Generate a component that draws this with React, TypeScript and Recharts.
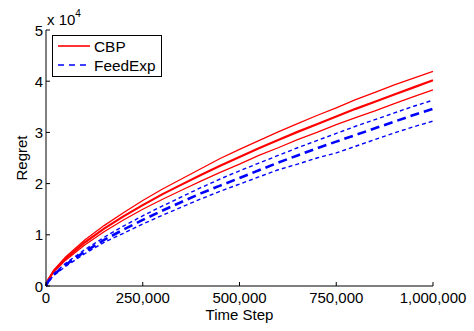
import React from 'react';
import { LineChart, Line, XAxis, YAxis, Legend } from 'recharts';

const timeSteps = [0, 5000, 20000, 50000, 100000, 150000, 200000, 250000, 300000, 350000, 400000, 450000, 500000, 550000, 600000, 650000, 700000, 750000, 800000, 850000, 900000, 950000, 1000000];

const cbpMean = [0, 1130, 2900, 5300, 8500, 11200, 13600, 15800, 17900, 19800, 21700, 23500, 25200, 26900, 28500, 30100, 31600, 33100, 34600, 36000, 37400, 38800, 40200];
const cbpUpper = [0, 1200, 3100, 5600, 9000, 11800, 14300, 16700, 18900, 20900, 22900, 24900, 26700, 28400, 30100, 31700, 33300, 34800, 36400, 37800, 39300, 40600, 41900];
const cbpLower = [0, 1050, 2750, 5000, 8000, 10600, 12900, 15000, 16900, 18700, 20500, 22200, 23800, 25500, 27000, 28600, 30000, 31500, 32900, 34200, 35600, 37000, 38300];

const feMean = [0, 800, 2200, 4100, 6700, 9000, 11000, 12900, 14700, 16400, 18100, 19600, 21100, 22600, 24100, 25500, 26900, 28200, 29500, 30800, 32100, 33400, 34600];
const feUpper = [0, 850, 2350, 4400, 7100, 9500, 11700, 13700, 15600, 17400, 19200, 20900, 22500, 24000, 25500, 27000, 28400, 29800, 31200, 32500, 33800, 35100, 36300];
const feLower = [0, 750, 2050, 3800, 6300, 8500, 10300, 12100, 13800, 15400, 17000, 18500, 19900, 21300, 22700, 23800, 25000, 26000, 27300, 28600, 29900, 31100, 32200];

const xTicks = [0, 250000, 500000, 750000, 1000000];
const xTickLabels = ['0', '250,000', '500,000', '750,000', '1,000,000'];
const yTicks = [0, 10000, 20000, 30000, 40000, 50000];
const yTickLabels = ['0', '1', '2', '3', '4', '5'];

const data = timeSteps.map((t, i) => ({
  t,
  cbpMean: cbpMean[i],
  cbpUpper: cbpUpper[i],
  cbpLower: cbpLower[i],
  feMean: feMean[i],
  feUpper: feUpper[i],
  feLower: feLower[i],
}));

const FONT = '"Liberation Sans", Arial, Helvetica, sans-serif';
const FS = 15;
const TL = 4;

const XBottomTick = (props: any) => {
  const { x, y, payload } = props;
  const idx = xTicks.indexOf(payload.value);
  return (
    <g>
      <line x1={x} y1={y} x2={x} y2={y - TL} stroke="#000" strokeWidth={1} />
      <text x={x} y={y + 17} textAnchor="middle" fontFamily={FONT} fontSize={FS} fill="#000">
        {idx >= 0 ? xTickLabels[idx] : ''}
      </text>
    </g>
  );
};

const XTopTick = (props: any) => {
  const { x, y } = props;
  return <line x1={x} y1={y} x2={x} y2={y + TL} stroke="#000" strokeWidth={1} />;
};

const YLeftTick = (props: any) => {
  const { x, y, payload } = props;
  const idx = yTicks.indexOf(payload.value);
  return (
    <g>
      <line x1={x} y1={y} x2={x + TL} y2={y} stroke="#000" strokeWidth={1} />
      <text x={x - 3} y={y + 5.5} textAnchor="end" fontFamily={FONT} fontSize={FS} fill="#000">
        {idx >= 0 ? yTickLabels[idx] : ''}
      </text>
    </g>
  );
};

const YRightTick = (props: any) => {
  const { x, y } = props;
  return <line x1={x} y1={y} x2={x - TL} y2={y} stroke="#000" strokeWidth={1} />;
};

const YLabel = (props: any) => {
  const vb = props.viewBox || { x: 0, y: 30, width: 46, height: 256 };
  const cx = vb.x + 21;
  const cy = vb.y + vb.height / 2;
  return (
    <g>
      <text
        x={cx}
        y={cy}
        transform={`rotate(-90 ${cx} ${cy})`}
        textAnchor="middle"
        dominantBaseline="central"
        fontFamily={FONT}
        fontSize={FS}
        fill="#000"
      >
        Regret
      </text>
      <text x={vb.x + vb.width + 1} y={vb.y - 5} fontFamily={FONT} fontSize={FS} fill="#000">
        x 10
        <tspan fontSize={10} dy={-8}>4</tspan>
      </text>
    </g>
  );
};

const renderLegend = (props: any) => {
  const entries = (props.payload || []).filter((e: any) => e.value === 'CBP' || e.value === 'FeedExp');
  return (
    <div
      style={{
        border: '1px solid #000',
        background: '#fff',
        width: 108,
        height: 40,
        boxSizing: 'content-box',
        position: 'relative',
      }}
    >
      <svg width={108} height={40} style={{ position: 'absolute', left: 0, top: 0 }}>
        {entries.map((e: any, i: number) => {
          const yy = 10 + i * 19;
          const dashed = e.value === 'FeedExp';
          return (
            <g key={e.value}>
              <line
                x1={5}
                y1={yy}
                x2={37}
                y2={yy}
                stroke={e.color}
                strokeWidth={1.6}
                strokeDasharray={dashed ? '6 5' : undefined}
              />
              <text x={41} y={yy + 5.5} fontFamily={FONT} fontSize={15.4} fill="#000">
                {e.value}
              </text>
            </g>
          );
        })}
      </svg>
    </div>
  );
};

export default function App() {
  return (
    <div style={{ position: 'absolute', left: 0, top: 0, width: 474, height: 331, background: '#fff' }}>
      <LineChart
        width={474}
        height={331}
        data={data}
        margin={{ top: 30, right: 41, bottom: 0, left: 0 }}
      >
        <XAxis
          dataKey="t"
          type="number"
          domain={[0, 1000000]}
          ticks={xTicks}
          tick={<XBottomTick />}
          tickLine={false}
          tickSize={0}
          tickMargin={0}
          height={45}
          axisLine={{ stroke: '#000', strokeWidth: 1 }}
          interval={0}
          label={{ value: 'Time Step', position: 'insideBottom', offset: 11.5, fontFamily: FONT, fontSize: FS, fill: '#000' }}
        />
        <XAxis
          xAxisId="top"
          orientation="top"
          dataKey="t"
          type="number"
          domain={[0, 1000000]}
          ticks={xTicks}
          tick={<XTopTick />}
          tickLine={false}
          tickSize={0}
          tickMargin={0}
          height={0}
          axisLine={{ stroke: '#000', strokeWidth: 1 }}
          interval={0}
        />
        <YAxis
          type="number"
          domain={[0, 50000]}
          ticks={yTicks}
          tick={<YLeftTick />}
          tickLine={false}
          tickSize={0}
          tickMargin={0}
          width={46}
          axisLine={{ stroke: '#000', strokeWidth: 1 }}
          interval={0}
          label={<YLabel />}
        />
        <YAxis
          yAxisId="right"
          orientation="right"
          type="number"
          domain={[0, 50000]}
          ticks={yTicks}
          tick={<YRightTick />}
          tickLine={false}
          tickSize={0}
          tickMargin={0}
          width={0}
          axisLine={{ stroke: '#000', strokeWidth: 1 }}
          interval={0}
        />
        <Legend
          layout="vertical"
          align="center"
          verticalAlign="middle"
          content={renderLegend}
          wrapperStyle={{ position: 'absolute', left: 52, top: 35, width: 110, height: 42 }}
        />
        <Line dataKey="cbpUpper" name="cbpUpper" stroke="#ff0000" strokeWidth={1.3} dot={false} isAnimationActive={false} legendType="none" />
        <Line dataKey="cbpLower" name="cbpLower" stroke="#ff0000" strokeWidth={1.3} dot={false} isAnimationActive={false} legendType="none" />
        <Line dataKey="feUpper" name="feUpper" stroke="#0000ff" strokeWidth={1.4} strokeDasharray="4 3" dot={false} isAnimationActive={false} legendType="none" />
        <Line dataKey="feLower" name="feLower" stroke="#0000ff" strokeWidth={1.4} strokeDasharray="4 3" dot={false} isAnimationActive={false} legendType="none" />
        <Line dataKey="cbpMean" name="CBP" stroke="#ff0000" strokeWidth={2.2} dot={false} isAnimationActive={false} />
        <Line dataKey="feMean" name="FeedExp" stroke="#0000ff" strokeWidth={2.6} strokeDasharray="9 5" dot={false} isAnimationActive={false} />
      </LineChart>
    </div>
  );
}
